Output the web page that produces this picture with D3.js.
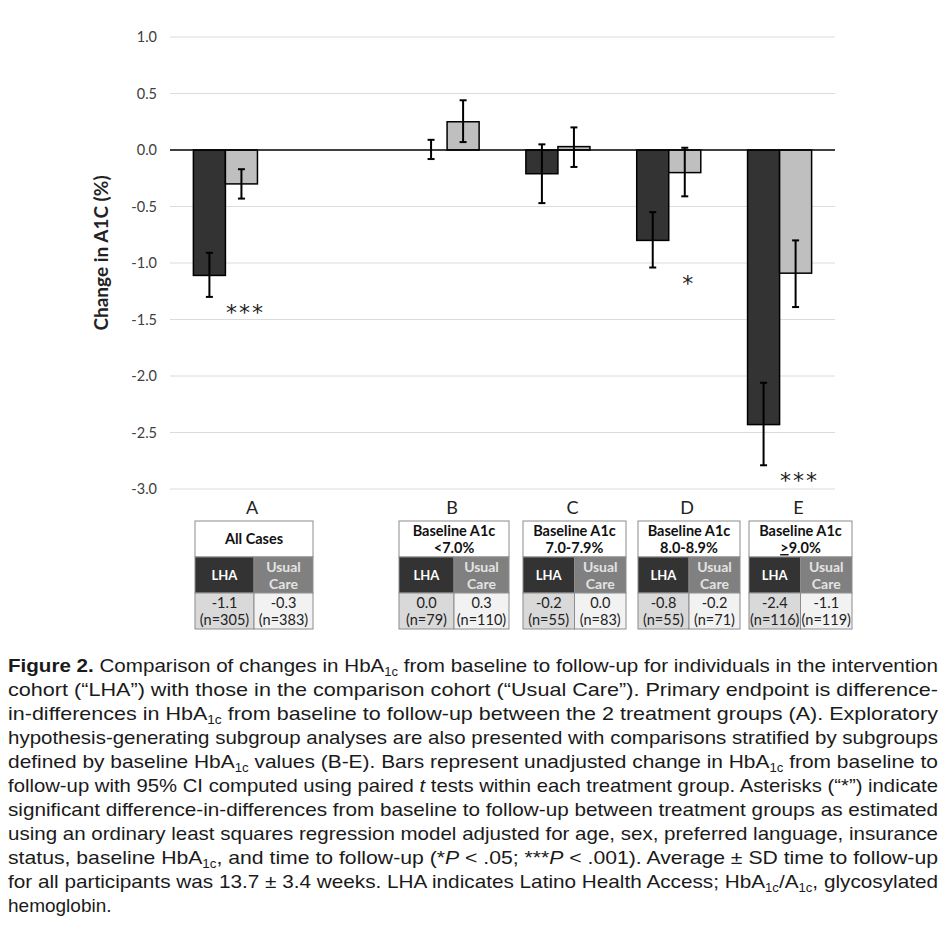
<!DOCTYPE html>
<html>
<head>
<meta charset="utf-8">
<script src="https://cdn.jsdelivr.net/npm/d3@7"></script>
<style>
  html, body { margin: 0; padding: 0; background: #fff; }
  svg { display: block; }
</style>
</head>
<body>
<svg id="fig" width="946" height="929"></svg>
<script>
// chart values
var groups  = ["A", "B", "C", "D", "E"];
var slots   = ["A", "gap", "B", "C", "D", "E"];
var series  = ["LHA", "Usual Care"];
var lhaMean = [-1.11, 0.00, -0.21, -0.80, -2.43];
var lhaLo   = [-1.30, -0.08, -0.47, -1.04, -2.79];
var lhaHi   = [-0.91, 0.09, 0.05, -0.55, -2.06];
var ucMean  = [-0.30, 0.25, 0.03, -0.20, -1.09];
var ucLo    = [-0.43, 0.07, -0.15, -0.41, -1.39];
var ucHi    = [-0.17, 0.44, 0.20, 0.02, -0.80];
var stars   = ["***", "", "", "*", "***"];
var yTicks  = [1.0, 0.5, 0.0, -0.5, -1.0, -1.5, -2.0, -2.5, -3.0];

// table under each group
var heads   = [["All Cases"], ["Baseline A1c", "<7.0%"], ["Baseline A1c", "7.0-7.9%"],
               ["Baseline A1c", "8.0-8.9%"], ["Baseline A1c", "≥9.0%"]];
var lhaTxt  = ["-1.1", "0.0", "-0.2", "-0.8", "-2.4"];
var lhaN    = [305, 79, 55, 55, 116];
var ucTxt   = ["-0.3", "0.3", "0.0", "-0.2", "-1.1"];
var ucN     = [383, 110, 83, 71, 119];

// caption lines (^b{} bold, ^i{} italic, ^s{} subscript)
var caption = [
  "^b{Figure 2.} Comparison of changes in HbA^s{1c} from baseline to follow-up for individuals in the intervention",
  "cohort (“LHA”) with those in the comparison cohort (“Usual Care”). Primary endpoint is difference-",
  "in-differences in HbA^s{1c} from baseline to follow-up between the 2 treatment groups (A). Exploratory",
  "hypothesis-generating subgroup analyses are also presented with comparisons stratified by subgroups",
  "defined by baseline HbA^s{1c} values (B-E). Bars represent unadjusted change in HbA^s{1c} from baseline to",
  "follow-up with 95% CI computed using paired ^i{t} tests within each treatment group. Asterisks (“*”) indicate",
  "significant difference-in-differences from baseline to follow-up between treatment groups as estimated",
  "using an ordinary least squares regression model adjusted for age, sex, preferred language, insurance",
  "status, baseline HbA^s{1c}, and time to follow-up (*^i{P} < .05; ***^i{P} < .001). Average ± SD time to follow-up",
  "for all participants was 13.7 ± 3.4 weeks. LHA indicates Latino Health Access; HbA^s{1c}/A^s{1c}, glycosylated",
  "hemoglobin."
];

var rows = groups.map(function(g, i) {
  return {g: g, vals: [
    {s: series[0], v: lhaMean[i], lo: lhaLo[i], hi: lhaHi[i]},
    {s: series[1], v: ucMean[i], lo: ucLo[i], hi: ucHi[i]}
  ]};
});

var svg = d3.select("#fig");
var chartFont = "Lato, 'Open Sans', sans-serif";
var colBar = {"LHA": "#333333", "Usual Care": "#bfbfbf"};

var x = d3.scaleBand().domain(slots).range([170, 835]);
var x1 = d3.scaleBand().domain(series).range([0, x.bandwidth()]).paddingOuter(0.73);
var y = d3.scaleLinear().domain([-3, 1]).range([489, 37]);

// gridlines
svg.append("g")
  .selectAll("line").data(yTicks.filter(function(t) { return t !== 0; }))
  .join("line")
    .attr("x1", 170).attr("x2", 835)
    .attr("y1", function(d) { return y(d); }).attr("y2", function(d) { return y(d); })
    .attr("stroke", "#dcdcdc").attr("stroke-width", 1);

// y axis labels
var yAxis = svg.append("g")
  .attr("transform", "translate(157,0)")
  .call(d3.axisLeft(y).tickValues(yTicks).tickFormat(d3.format(".1f")).tickSize(0).tickPadding(0));
yAxis.select(".domain").remove();
yAxis.selectAll("text")
  .attr("font-family", chartFont).attr("font-size", 14.5).attr("fill", "#404040")
  .text(function(d) { return d3.format(".1f")(d).replace("−", "-"); });

svg.append("text")
  .attr("transform", "translate(103,253) rotate(-90)")
  .attr("text-anchor", "middle").attr("dominant-baseline", "middle")
  .attr("font-family", chartFont).attr("font-size", 19).attr("font-weight", "bold")
  .attr("fill", "#222")
  .text("Change in A1C (%)");

// bars
var grp = svg.append("g").selectAll("g").data(rows).join("g")
  .attr("transform", function(d) { return "translate(" + x(d.g) + ",0)"; });

grp.selectAll("rect").data(function(d) { return d.vals; }).join("rect")
  .attr("x", function(d) { return x1(d.s); })
  .attr("width", x1.bandwidth())
  .attr("y", function(d) { return y(Math.max(0, d.v)); })
  .attr("height", function(d) { return Math.abs(y(d.v) - y(0)); })
  .attr("fill", function(d) { return colBar[d.s]; })
  .attr("stroke", "#000").attr("stroke-width", 1.5);

// zero line
svg.append("line")
  .attr("x1", 170).attr("x2", 835).attr("y1", y(0)).attr("y2", y(0))
  .attr("stroke", "#000").attr("stroke-width", 1.3);

// error bars
var eb = grp.selectAll("g.err").data(function(d) { return d.vals; }).join("g")
  .attr("class", "err")
  .attr("transform", function(d) { return "translate(" + (x1(d.s) + x1.bandwidth() / 2) + ",0)"; });
eb.append("line")
  .attr("y1", function(d) { return y(d.lo); }).attr("y2", function(d) { return y(d.hi); })
  .attr("stroke", "#000").attr("stroke-width", 2);
eb.selectAll("line.cap").data(function(d) { return [d.lo, d.hi]; }).join("line")
  .attr("class", "cap")
  .attr("x1", -3.5).attr("x2", 3.5)
  .attr("y1", function(d) { return y(d); }).attr("y2", function(d) { return y(d); })
  .attr("stroke", "#000").attr("stroke-width", 2);

// significance stars
grp.append("text")
  .attr("x", x1("Usual Care") + x1.bandwidth() / 2 + 4)
  .attr("y", function(d) { return y(d3.min(d.vals, function(v) { return v.lo; })) + 23; })
  .attr("text-anchor", "middle")
  .attr("font-family", "'DejaVu Sans', sans-serif").attr("font-size", 22).attr("fill", "#222")
  .attr("letter-spacing", 2)
  .text(function(d, i) { return stars[i]; });

// tables
var tblLeft  = [195, 399, 523, 638, 749];
var tblRight = [313, 509, 626, 740, 852];
var rowH = 36, tblTop = 521;

groups.forEach(function(g, i) {
  var l = tblLeft[i], r = tblRight[i], w = r - l, mid = l + w / 2;
  var t = svg.append("g");

  t.append("text")
    .attr("x", mid - 2).attr("y", 514)
    .attr("text-anchor", "middle")
    .attr("font-family", chartFont).attr("font-size", 18).attr("fill", "#222")
    .text(g);

  var cells = [
    {x: l, y: tblTop, w: w, fill: "#fff"},
    {x: l, y: tblTop + rowH, w: w / 2, fill: "#333333"},
    {x: mid, y: tblTop + rowH, w: w / 2, fill: "#808080"},
    {x: l, y: tblTop + 2 * rowH, w: w / 2, fill: "#d9d9d9"},
    {x: mid, y: tblTop + 2 * rowH, w: w / 2, fill: "#f2f2f2"}
  ];
  t.selectAll("rect").data(cells).join("rect")
    .attr("x", function(d) { return d.x; }).attr("y", function(d) { return d.y; })
    .attr("width", function(d) { return d.w; }).attr("height", rowH)
    .attr("fill", function(d) { return d.fill; })
    .attr("stroke", "#8c8c8c").attr("stroke-width", 1);

  // header
  var h = heads[i];
  var ht = t.append("text")
    .attr("text-anchor", "middle")
    .attr("font-family", chartFont).attr("font-size", 14.5).attr("font-weight", "bold").attr("fill", "#111");
  if (h.length === 1) {
    ht.attr("x", mid).attr("y", tblTop + rowH / 2 + 5).text(h[0]);
  } else {
    ht.append("tspan").attr("x", mid).attr("y", tblTop + 15).text(h[0]);
    var t2 = ht.append("tspan").attr("x", mid).attr("y", tblTop + 32);
    if (h[1].charAt(0) === "≥") {
      t2.append("tspan").attr("text-decoration", "underline").text(">");
      t2.append("tspan").text(h[1].slice(1));
    } else {
      t2.text(h[1]);
    }
  }

  // series row
  t.append("text")
    .attr("x", l + w / 4).attr("y", tblTop + rowH + rowH / 2 + 5)
    .attr("text-anchor", "middle")
    .attr("font-family", chartFont).attr("font-size", 13).attr("font-weight", "bold").attr("fill", "#fff")
    .text(series[0]);
  var uc = t.append("text")
    .attr("text-anchor", "middle")
    .attr("font-family", chartFont).attr("font-size", 14).attr("font-weight", "bold").attr("fill", "#e3e3e3");
  series[1].split(" ").forEach(function(word, k) {
    uc.append("tspan").attr("x", mid + w / 4).attr("y", tblTop + rowH + 15 + k * 17).text(word);
  });

  // values row
  [[lhaTxt[i], lhaN[i], l + w / 4], [ucTxt[i], ucN[i], mid + w / 4]].forEach(function(c) {
    var vt = t.append("text")
      .attr("text-anchor", "middle")
      .attr("font-family", chartFont).attr("font-size", 14.5).attr("fill", "#222");
    vt.append("tspan").attr("x", c[2]).attr("y", tblTop + 2 * rowH + 15).text(c[0]);
    vt.append("tspan").attr("x", c[2]).attr("y", tblTop + 2 * rowH + 32).text("(n=" + c[1] + ")");
  });
});

// caption
var capFont = "'Liberation Sans Narrow', 'Liberation Sans', Arial, sans-serif";
var cap = svg.append("g");
caption.forEach(function(line, i) {
  var tx = cap.append("text")
    .attr("x", 8).attr("y", 672 + i * 24)
    .attr("font-family", capFont).attr("font-size", 19).attr("fill", "#1a1a1a");
  if (i < caption.length - 1) tx.attr("textLength", 930).attr("lengthAdjust", "spacingAndGlyphs");
  var re = /\^([bis])\{([^}]*)\}/g, last = 0, m;
  while ((m = re.exec(line)) !== null) {
    if (m.index > last) tx.append("tspan").text(line.slice(last, m.index));
    var sp = tx.append("tspan").text(m[2]);
    if (m[1] === "b") sp.attr("font-weight", "bold");
    if (m[1] === "i") sp.attr("font-style", "italic");
    if (m[1] === "s") sp.attr("font-size", 12).attr("baseline-shift", -4);
    last = re.lastIndex;
  }
  if (last < line.length) tx.append("tspan").text(line.slice(last));
});
</script>
</body>
</html>
